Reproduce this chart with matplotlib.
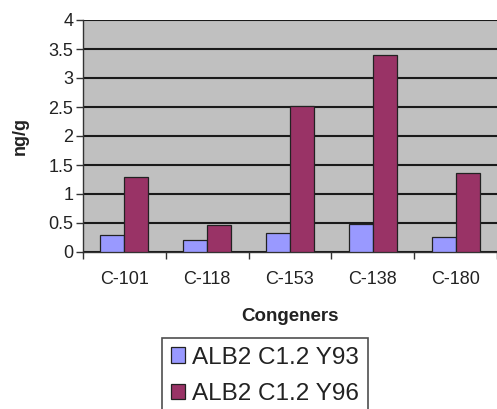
import matplotlib
matplotlib.use("Agg")
import matplotlib.pyplot as plt
import numpy as np

categories = ["C-101", "C-118", "C-153", "C-138", "C-180"]
series_names = ["ALB2 C1.2 Y93", "ALB2 C1.2 Y96"]
y93 = [0.29, 0.21, 0.32, 0.49, 0.26]
y96 = [1.29, 0.47, 2.52, 3.40, 1.36]
yticks = [0, 0.5, 1, 1.5, 2, 2.5, 3, 3.5, 4]
ytick_labels = ["0", "0.5", "1", "1.5", "2", "2.5", "3", "3.5", "4"]

plt.rcParams['font.family'] = ['Liberation Sans', 'DejaVu Sans']

fig = plt.figure(figsize=(4.97, 4.09), dpi=100)
ax = fig.add_axes([83/497, 1 - 252/409, 414/497, 232/409])
ax.set_facecolor("#C0C0C0")

x = np.arange(len(categories))
w = 0.29
ax.bar(x - w/2, y93, w, color="#9999FF", edgecolor="#222222", linewidth=0.9,
       label=series_names[0], zorder=3)
ax.bar(x + w/2, y96, w, color="#993366", edgecolor="#222222", linewidth=0.9,
       label=series_names[1], zorder=3)

ax.set_xlim(-0.5, len(categories) - 0.5)
ax.set_ylim(0, 4)
ax.set_yticks(yticks)
ax.set_yticklabels(ytick_labels)
ax.yaxis.grid(True, color="#1a1a1a", linewidth=1.5, zorder=1)
ax.set_axisbelow(True)

ax.set_xticks(x)
ax.set_xticklabels(categories)
ax.set_xticks(np.arange(len(categories) + 1) - 0.5, minor=True)
ax.tick_params(axis='x', which='major', length=0, pad=14, labelsize=13, labelcolor="#222222")
ax.tick_params(axis='x', which='minor', length=5, width=1, direction='out', color="#333333")
ax.tick_params(axis='y', length=5, width=1, direction='out', labelsize=13, pad=2,
               labelcolor="#222222", color="#333333")

for s in ["top", "right"]:
    ax.spines[s].set_visible(False)
ax.spines["left"].set_color("#333333")
ax.spines["bottom"].set_color("#333333")
ax.spines["left"].set_linewidth(1)
ax.spines["bottom"].set_linewidth(1)

ax.set_xlabel("Congeners", fontsize=13.5, fontweight="bold", labelpad=14, color="#222222")
ax.set_ylabel("ng/g", fontsize=13, fontweight="bold", labelpad=14, color="#222222")

leg = ax.legend(loc="upper left", bbox_to_anchor=(162/497, 1 - 338/409),
                bbox_transform=fig.transFigure, fontsize=17.5, frameon=True,
                fancybox=False, edgecolor="#222222", handlelength=0.6,
                handleheight=0.6, handletextpad=0.3, borderpad=0.35,
                labelspacing=0.6, borderaxespad=0)
leg.get_frame().set_linewidth(1.2)
for t in leg.get_texts():
    t.set_color("#222222")

fig.savefig("out.png", dpi=100)
